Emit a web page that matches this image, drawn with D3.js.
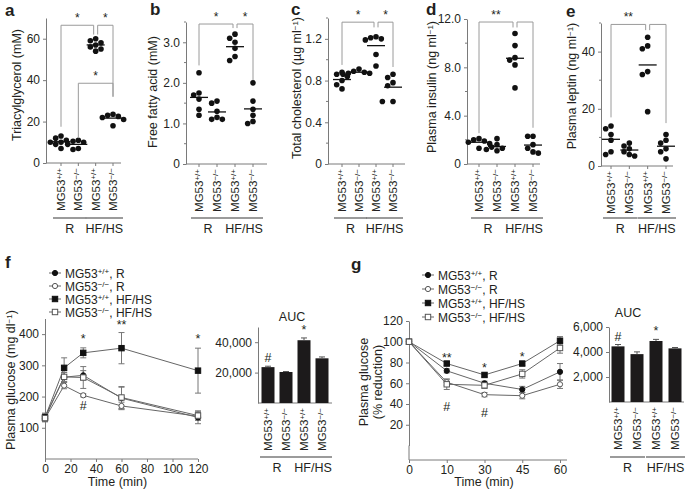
<!DOCTYPE html>
<html lang="en">
<head>
<meta charset="UTF-8">
<script src="https://d3js.org/d3.v7.min.js"></script>
<title>MG53 metabolic panels</title>
<style>
body { margin: 0; background: #fff; }
svg text { font-family: "Liberation Sans", Arial, sans-serif; fill: #231f20; }
.axis path, .axis line { stroke: #7a7a7a; fill: none; }
.axis text { font-size: 12px; }
</style>
</head>
<body>
<script>

// ---- data ----
var groups = ["wtR", "koR", "wtHF", "koHF"];
var groupSup = ["+/+", "\u2212/\u2212", "+/+", "\u2212/\u2212"];
var diets = ["R", "HF/HS"];

var tagValues     = [[13, 12, 11, 10, 10, 9, 7], [11, 10.5, 10, 9, 7, 6.5], [60, 59, 58, 57, 56, 55, 54], [23.5, 23, 22.5, 22, 21, 18]];
var ffaValues     = [[2.25, 1.75, 1.7, 1.6, 1.35, 1.2], [1.55, 1.5, 1.3, 1.15, 1.1, 1.1], [3.2, 3.1, 3.0, 2.85, 2.65, 2.55], [2.0, 1.55, 1.35, 1.2, 1.05, 1.0]];
var cholValues    = [[0.88, 0.86, 0.84, 0.8, 0.76, 0.72], [0.91, 0.89, 0.88, 0.87, 0.87, 0.86], [1.22, 1.21, 1.2, 1.19, 1.05, 0.94], [0.86, 0.83, 0.78, 0.75, 0.6, 0.6]];
var insulinValues = [[2.1, 2.0, 1.9, 1.8, 1.7, 1.3], [2.1, 1.6, 1.4, 1.3, 1.2, 1.1], [10.8, 9.8, 8.8, 8.6, 8.2, 6.3], [2.3, 2.3, 1.6, 1.3, 1.0, 0.9]];
var leptinValues  = [[14, 13, 11, 9, 5, 4], [8, 7, 6, 5, 4, 3.5], [45, 42, 41, 33, 32, 19], [11, 9, 8, 6, 5, 2.5]];

// brackets: [from group, to group, top value, end value at from, end value at to, label]
var tagBrackets     = [[0, 2, 66.5, 17.5, 62, "*"], [2, 3, 66.5, 62, 32, "*"], [1, 3, 38.5, 12, 32, "*"]];
var ffaBrackets     = [[0, 2, 3.45, 2.43, 3.35, "*"], [2, 3, 3.45, 3.35, 2.07, "*"]];
var cholBrackets    = [[0, 2, 1.36, 0.95, 1.31, "*"], [2, 3, 1.36, 1.31, 0.93, "*"]];
var insulinBrackets = [[0, 2, 11.75, 2.55, 11.3, "**"], [2, 3, 11.75, 11.3, 3.0, ""]];
var leptinBrackets  = [[0, 2, 49.5, 17, 47.5, "**"], [2, 3, 49.5, 47.5, 15, ""]];

var gttTimes = [0, 15, 30, 60, 120];
var gttMean = [[135, 262, 268, 195, 133], [130, 235, 204, 170, 137], [133, 292, 340, 355, 283], [131, 263, 261, 197, 139]];
var gttErr  = [[12, 15, 15, 35, 20], [10, 10, 5, 12, 12], [12, 32, 16, 50, 72], [12, 15, 35, 35, 15]];
var gttMarks = [[30, 387, "*"], [60, 432, "**"], [120, 387, "*"], [30, 174, "#"]];
var gttAuc = [23600, 20400, 41300, 29400];
var gttAucErr = [600, 300, 1500, 900];
var gttAucMarks = [[0, "#"], [2, "*"]];

var ittTimes = ["0", "10", "30", "45", "60"];
var ittMean = [[100, 72, 60, 54, 71], [100, 61, 49, 48, 59], [100, 79, 68, 79, 101], [100, 59, 58, 69, 94]];
var ittErr  = [[0, 2, 2, 3, 8], [0, 3, 2, 3, 4], [0, 2, 2, 2, 4], [0, 5, 3, 4, 5]];
var ittMarks = [["10", 85, "**"], ["30", 75.5, "*"], ["45", 86, "*"], ["10", 38, "#"], ["30", 32, "#"]];
var ittAuc = [4450, 3830, 4880, 4290];
var ittAucErr = [150, 180, 130, 70];
var ittAucMarks = [[0, "#"], [2, "*"]];

var seriesDiet = [", R", ", R", ", HF/HS", ", HF/HS"];

// ---- drawing ----
var svg = d3.select("body").append("svg")
    .attr("width", 685)
    .attr("height", 490);

var grey = "#7a7a7a";

function letter(txt, x, y) {
  svg.append("text").attr("x", x).attr("y", y)
    .style("font-size", "17px").style("font-weight", "bold").text(txt);
}

// text with a superscript part, shifts in px so they cancel out
function supText(t, base, sup, after) {
  t.append("tspan").text(base);
  t.append("tspan").attr("dy", -3.5).style("font-size", "8px").text(sup);
  if (after) t.append("tspan").attr("dy", 3.5).text(after);
}

function yTitle(base, sup, after, x, y) {
  var t = svg.append("text")
      .attr("transform", "translate(" + x + "," + y + ") rotate(-90)")
      .attr("text-anchor", "middle")
      .style("font-size", "12.5px");
  if (sup) supText(t, base, sup, after);
  else t.text(base);
}

function catLabels(x, top, lineY) {
  groups.forEach(function(g, i) {
    var t = svg.append("text")
        .attr("transform", "translate(" + (x(g) + 4) + "," + top + ") rotate(-90)")
        .attr("text-anchor", "end")
        .style("font-size", "11.5px");
    supText(t, "MG53", groupSup[i], null);
  });
  var step = x.step();
  diets.forEach(function(d, i) {
    var mid = (x(groups[i * 2]) + x(groups[i * 2 + 1])) / 2;
    var half = step / 2 + 8 + i * 2;
    svg.append("line")
        .attr("x1", mid - half).attr("x2", mid + half)
        .attr("y1", lineY).attr("y2", lineY)
        .attr("stroke", grey).attr("stroke-width", 1.5);
    svg.append("text").attr("x", mid).attr("y", lineY + 15)
        .attr("text-anchor", "middle").style("font-size", "12.5px").text(d);
  });
}

function leftAxis(y, x0, ticks, fmt, minor) {
  var g = svg.append("g").attr("class", "axis")
      .attr("transform", "translate(" + x0 + ",0)")
      .call(d3.axisLeft(y).tickValues(ticks).tickFormat(fmt).tickSize(3).tickSizeOuter(0).tickPadding(3));
  if (minor) {
    g.selectAll(".minor").data(minor).enter().append("line")
        .attr("x1", -2).attr("x2", 0)
        .attr("y1", function(d) { return y(d); })
        .attr("y2", function(d) { return y(d); });
  }
  return g;
}

function bottomLine(x, x0, x1, y0) {
  svg.append("line").attr("x1", x0).attr("x2", x1).attr("y1", y0).attr("y2", y0)
      .attr("stroke", grey);
  svg.selectAll(null).data(groups).enter().append("line")
      .attr("x1", function(d) { return x(d); }).attr("x2", function(d) { return x(d); })
      .attr("y1", y0).attr("y2", y0 + 3).attr("stroke", grey);
}

// spread points horizontally so they do not overlap
function swarm(vals, y, cx, r) {
  var placed = [];
  var offs = [0, -1, 1, -2, 2, -3, 3];
  return vals.map(function(v) {
    var py = y(v), px = cx;
    for (var k = 0; k < offs.length; k++) {
      var tx = cx + offs[k] * (r * 1.9);
      var ok = placed.every(function(p) {
        return Math.hypot(p[0] - tx, p[1] - py) > r * 1.9;
      });
      if (ok) { px = tx; break; }
    }
    placed.push([px, py]);
    return [px, py];
  });
}

function dotPanel(c) {
  var y = d3.scaleLinear().domain([0, c.max]).range([c.y0, c.yTop]);
  var x = d3.scalePoint().domain(groups).range(c.cats);
  leftAxis(y, c.x0, c.ticks, c.fmt, c.minor);
  bottomLine(x, c.x0, c.x1, c.y0);

  c.values.forEach(function(vals, i) {
    var pts = swarm(vals, y, x(groups[i]), 2.8);
    svg.selectAll(null).data(pts).enter().append("circle")
        .attr("cx", function(d) { return d[0]; })
        .attr("cy", function(d) { return d[1]; })
        .attr("r", 2.8)
        .attr("fill", "#111");
    var m = d3.mean(vals);
    svg.append("line")
        .attr("x1", x(groups[i]) - 9).attr("x2", x(groups[i]) + 9)
        .attr("y1", y(m)).attr("y2", y(m))
        .attr("stroke", "#111").attr("stroke-width", 1.3);
  });

  c.brackets.forEach(function(b) {
    var xa = x(groups[b[0]]), xb = x(groups[b[1]]);
    if (b[1] == 2) xb -= 2;
    if (b[0] == 2) xa += 2;
    svg.append("path")
        .attr("d", "M" + xa + "," + y(b[3]) + "V" + y(b[2]) + "H" + xb + "V" + y(b[4]))
        .attr("fill", "none").attr("stroke", "#9a9a9a").attr("stroke-width", 1);
    if (b[5]) {
      svg.append("text").attr("x", (xa + xb) / 2).attr("y", y(b[2]) - 3)
          .attr("text-anchor", "middle").style("font-size", "12px").text(b[5]);
    }
  });

  catLabels(x, c.y0 + 5, 218);
  yTitle(c.title[0], c.title[1], c.title[2], c.titleX, c.titleY);
  letter(c.letter, c.lx, c.ly);
}

var f1 = function(d) { return d == 0 ? "0" : d3.format(".1f")(d); };

dotPanel({ letter: "a", lx: 5, ly: 16, values: tagValues, brackets: tagBrackets,
  max: 70, y0: 163, yTop: 18, x0: 46, x1: 121, cats: [61, 113],
  ticks: [0, 20, 40, 60], fmt: d3.format("d"), minor: null,
  title: ["Triacylglycerol (mM)"], titleX: 21, titleY: 85 });

dotPanel({ letter: "b", lx: 150, ly: 15, values: ffaValues, brackets: ffaBrackets,
  max: 3.5, y0: 164, yTop: 22, x0: 186, x1: 267, cats: [199, 253],
  ticks: [0, 1, 2, 3], fmt: f1, minor: [0.5, 1.5, 2.5, 3.5],
  title: ["Free fatty acid (mM)"], titleX: 157, titleY: 92 });

dotPanel({ letter: "c", lx: 291, ly: 15, values: cholValues, brackets: cholBrackets,
  max: 1.4, y0: 164, yTop: 18, x0: 328, x1: 405, cats: [342, 393],
  ticks: [0, 0.4, 0.8, 1.2], fmt: f1, minor: [0.2, 0.6, 1.0, 1.4],
  title: ["Total cholesterol (\u00b5g ml", "\u22121", ")"], titleX: 301, titleY: 88 });

dotPanel({ letter: "d", lx: 426, ly: 15, values: insulinValues, brackets: insulinBrackets,
  max: 12, y0: 164, yTop: 19, x0: 467, x1: 540, cats: [479, 533],
  ticks: [0, 4, 8, 12], fmt: f1, minor: [2, 6, 10],
  title: ["Plasma insulin (ng ml", "\u22121", ")"], titleX: 436, titleY: 87 });

dotPanel({ letter: "e", lx: 566, ly: 17, values: leptinValues, brackets: leptinBrackets,
  max: 50, y0: 166, yTop: 23, x0: 601, x1: 673, cats: [611, 666],
  ticks: [0, 20, 40], fmt: d3.format("d"), minor: [10, 30, 50],
  title: ["Plasma leptin (ng ml", "\u22121", ")"], titleX: 576, titleY: 86 });

// ---- line charts ----
function marker(sel, i) {
  var filled = (i % 2 == 0);
  if (i < 2) {
    sel.append("circle").attr("r", 2.6);
  } else {
    sel.append("rect").attr("x", -2.7).attr("y", -2.7).attr("width", 5.4).attr("height", 5.4);
  }
  sel.selectAll("circle,rect")
      .attr("fill", filled ? "#111" : "#fff")
      .attr("stroke", filled ? "#111" : "#555")
      .attr("stroke-width", 1);
}

function legend(x0, y0, dy) {
  [0, 1, 2, 3].forEach(function(i) {
    var yy = y0 + i * dy;
    svg.append("line").attr("x1", x0 - 6).attr("x2", x0 + 6).attr("y1", yy).attr("y2", yy)
        .attr("stroke", "#666");
    marker(svg.append("g").attr("transform", "translate(" + x0 + "," + yy + ")"), i);
    var t = svg.append("text").attr("x", x0 + 10).attr("y", yy + 4.5).style("font-size", "12px");
    supText(t, "MG53", groupSup[i], seriesDiet[i]);
  });
}

function linePanel(c) {
  var x = c.x, y = c.y;
  leftAxis(y, c.x0, c.yticks, d3.format("d"), null);
  svg.append("line").attr("x1", c.x0).attr("x2", c.x0).attr("y1", y.range()[0]).attr("y2", c.yBase)
      .attr("stroke", grey);
  svg.append("g").attr("class", "axis")
      .attr("transform", "translate(0," + c.yBase + ")")
      .call(d3.axisBottom(x).tickValues(c.xticks).tickSize(3).tickSizeOuter(0).tickPadding(2))
      .select(".domain").attr("d", "M" + c.x0 + ",0H" + c.x1);

  c.means.forEach(function(ser, i) {
    var pts = ser.map(function(v, k) { return [x(c.times[k]), y(v), c.errs[i][k]]; });
    svg.append("path")
        .attr("d", d3.line()(pts.map(function(p) { return [p[0], p[1]]; })))
        .attr("fill", "none").attr("stroke", "#666").attr("stroke-width", 1);
    pts.forEach(function(p, k) {
      if (!p[2]) return;
      var v = ser[k], e = p[2];
      var yt = y(v + e), yb = y(v - e);
      svg.append("path")
          .attr("d", "M" + p[0] + "," + yt + "V" + yb + "M" + (p[0] - 3) + "," + yt + "H" + (p[0] + 3) +
                     "M" + (p[0] - 3) + "," + yb + "H" + (p[0] + 3))
          .attr("stroke", "#777").attr("fill", "none").attr("stroke-width", 1);
    });
  });
  c.means.forEach(function(ser, i) {
    ser.forEach(function(v, k) {
      marker(svg.append("g").attr("transform", "translate(" + x(c.times[k]) + "," + y(v) + ")"), i);
    });
  });
  c.marks.forEach(function(m) {
    svg.append("text").attr("x", x(m[0])).attr("y", y(m[1]) + 5)
        .attr("text-anchor", "middle").style("font-size", "12.5px").text(m[2]);
  });
  svg.append("text").attr("x", (c.x0 + c.x1) / 2 - 4).attr("y", 486)
      .attr("text-anchor", "middle").style("font-size", "12.5px").text("Time (min)");
}

function aucPanel(c) {
  var x = d3.scalePoint().domain(groups).range(c.cats);
  var y = d3.scaleLinear().domain([0, c.max]).range([c.y0, c.yTop]);
  leftAxis(y, c.x0, c.ticks, d3.format(","), null);
  svg.append("line").attr("x1", c.x0).attr("x2", c.x1).attr("y1", c.y0).attr("y2", c.y0)
      .attr("stroke", grey);
  svg.selectAll(null).data(c.values).enter().append("rect")
      .attr("x", function(d, i) { return x(groups[i]) - 6.5; })
      .attr("width", 13)
      .attr("y", function(d) { return y(d); })
      .attr("height", function(d) { return c.y0 - y(d); })
      .attr("fill", "#1c1a1b");
  c.values.forEach(function(v, i) {
    var cx = x(groups[i]), yt = y(v + c.errs[i]);
    svg.append("path").attr("d", "M" + cx + "," + y(v) + "V" + yt + "M" + (cx - 3) + "," + yt + "H" + (cx + 3))
        .attr("stroke", "#555").attr("fill", "none");
  });
  c.marks.forEach(function(m) {
    svg.append("text").attr("x", x(groups[m[0]])).attr("y", y(c.values[m[0]] + c.errs[m[0]]) - 4)
        .attr("text-anchor", "middle").style("font-size", "12.5px").text(m[1]);
  });
  svg.append("text").attr("x", c.titleX).attr("y", c.titleY)
      .attr("text-anchor", "middle").style("font-size", "12.5px").text("AUC");
  catLabels(x, c.y0 + 5, 457);
}

// f
letter("f", 5, 268);
legend(55, 273, 13);
linePanel({
  x: d3.scaleLinear().domain([0, 120]).range([45, 198]),
  y: d3.scaleLinear().domain([0, 450]).range([459, 318.5]),
  x0: 45, x1: 198, yBase: 459,
  xticks: [0, 20, 40, 60, 80, 100, 120], yticks: [100, 200, 300, 400],
  times: gttTimes, means: gttMean, errs: gttErr,
  marks: gttMarks
});
yTitle("Plasma glucose (mg dl", "\u22121", ")", 15, 380);
aucPanel({ values: gttAuc, errs: gttAucErr, marks: gttAucMarks,
  max: 50000, y0: 403, yTop: 327, x0: 258, x1: 332, cats: [268, 322],
  ticks: [20000, 40000], titleX: 292, titleY: 321 });

// g
letter("g", 351, 270);
legend(428, 275, 14);
linePanel({
  x: d3.scalePoint().domain(ittTimes).range([409, 560]),
  y: d3.scaleLinear().domain([0, 120]).range([445.5, 321]),
  x0: 409, x1: 567, yBase: 460,
  xticks: ittTimes, yticks: [20, 40, 60, 80, 100, 120],
  times: ittTimes, means: ittMean, errs: ittErr,
  marks: ittMarks
});
var tg = svg.append("text").attr("transform", "translate(370,382) rotate(-90)")
    .attr("text-anchor", "middle").style("font-size", "12.5px");
tg.append("tspan").attr("x", 0).attr("dy", "-0.2em").text("Plasma glucose");
tg.append("tspan").attr("x", 0).attr("dy", "1.15em").text("(% reduction)");
aucPanel({ values: ittAuc, errs: ittAucErr, marks: ittAucMarks,
  max: 6000, y0: 402, yTop: 327, x0: 609, x1: 684, cats: [618, 675],
  ticks: [2000, 4000, 6000], titleX: 628, titleY: 317 });

</script>
</body>
</html>
